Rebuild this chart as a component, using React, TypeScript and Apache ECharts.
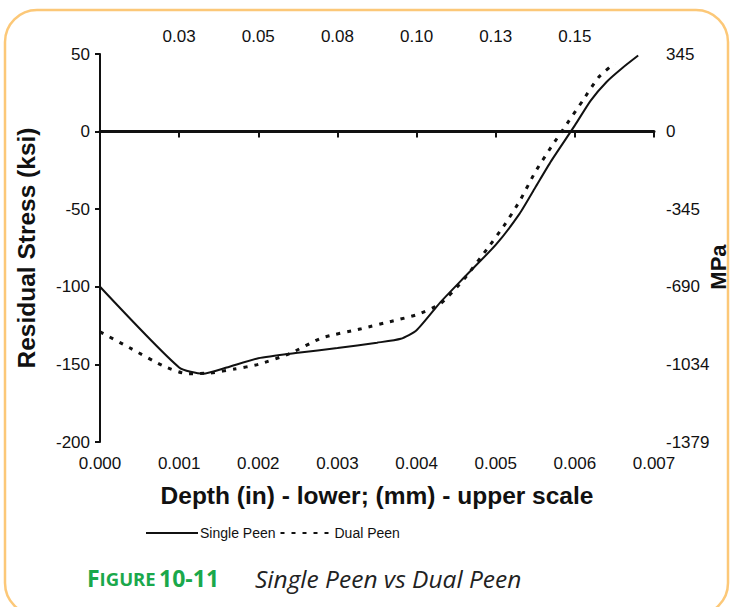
import React, { useEffect, useRef } from "react";
import * as echarts from "echarts";

const xTicks = [0, 0.001, 0.002, 0.003, 0.004, 0.005, 0.006, 0.007];
const mmLabels = ["", "0.03", "0.05", "0.08", "0.10", "0.13", "0.15", ""];
const ksiTicks = [-200, -150, -100, -50, 0, 50];
const mpaLabels = ["-1379", "-1034", "-690", "-345", "0", "345"];

const singleDepth = [0, 0.001, 0.0013, 0.0016, 0.002, 0.0025, 0.003, 0.0035, 0.0038, 0.004, 0.0043, 0.0046, 0.005, 0.0053, 0.0055, 0.0057, 0.006, 0.0062, 0.0064, 0.0066, 0.0068];
const singleStress = [-100, -152, -156, -152, -146, -142.5, -139.5, -136, -133.5, -128, -110, -94, -73, -53, -36, -19, 4, 20, 32, 41, 49];

const dualDepth = [0, 0.0004, 0.0008, 0.0011, 0.0014, 0.0017, 0.002, 0.0024, 0.0028, 0.0033, 0.0037, 0.004, 0.0043, 0.0046, 0.0049, 0.0051, 0.0053, 0.0055, 0.0057, 0.0059, 0.0061, 0.0063, 0.0065];
const dualStress = [-129, -140, -151, -156, -155.5, -153, -150, -143, -133, -127, -122, -118, -111, -95, -75, -61, -45, -26, -10, 5, 20, 35, 44];

const FONT = "'Liberation Sans', Arial, sans-serif";

export default function App() {
  const ref = useRef<HTMLDivElement>(null);
  useEffect(() => {
    if (!ref.current) return;
    const chart = echarts.init(ref.current, undefined, { renderer: "svg" });
    const tickIndex = (v: number) => xTicks.findIndex((t) => Math.abs(t - v) < 1e-9);
    const option: any = {
      animation: false,
      backgroundColor: "#ffffff",
      textStyle: { fontFamily: FONT },
      grid: { left: 100, right: 80, top: 54, bottom: 165 },
      legend: {
        left: 140,
        top: 521,
        itemWidth: 52,
        itemHeight: 2,
        itemGap: 4,
        itemStyle: { opacity: 0 },
        textStyle: { fontSize: 14, color: "#111", fontFamily: FONT, padding: [0, 0, 0, -3] },
        data: ["Single Peen", "Dual Peen"],
      },
      xAxis: [
        {
          type: "value",
          position: "bottom",
          min: 0,
          max: 0.007,
          interval: 0.001,
          axisLine: { show: false, onZero: false },
          axisTick: { show: false },
          splitLine: { show: false },
          axisLabel: {
            fontSize: 17,
            color: "#111",
            margin: 13,
            formatter: (v: number) => v.toFixed(3),
          },
          name: "Depth (in) - lower; (mm) - upper scale",
          nameLocation: "middle",
          nameGap: 41,
          nameTextStyle: { fontSize: 24.5, fontWeight: "bold", color: "#111", fontFamily: FONT },
        },
        {
          type: "value",
          position: "top",
          min: 0,
          max: 0.007,
          interval: 0.001,
          axisLine: { show: false, onZero: false },
          axisTick: { show: false },
          splitLine: { show: false },
          axisLabel: {
            fontSize: 17,
            color: "#111",
            margin: 9,
            formatter: (v: number) => mmLabels[tickIndex(v)] ?? "",
          },
        },
        {
          type: "value",
          position: "bottom",
          min: 0,
          max: 0.007,
          interval: 0.001,
          axisLine: { show: true, onZero: true, onZeroAxisIndex: 0, lineStyle: { color: "#111", width: 3 } },
          axisTick: { show: true, length: 6, lineStyle: { color: "#111", width: 2 } },
          axisLabel: { show: false },
          splitLine: { show: false },
        },
      ],
      yAxis: [
        {
          type: "value",
          position: "left",
          min: -200,
          max: 50,
          interval: 50,
          axisLine: { show: true, onZero: false, lineStyle: { color: "#111", width: 2 } },
          axisTick: { show: true, length: 5, lineStyle: { color: "#111", width: 2 } },
          splitLine: { show: false },
          axisLabel: { fontSize: 17, color: "#111", margin: 10 },
          name: "Residual Stress (ksi)",
          nameLocation: "middle",
          nameGap: 61,
          nameTextStyle: { fontSize: 24.5, fontWeight: "bold", color: "#111", fontFamily: FONT },
        },
        {
          type: "value",
          position: "right",
          min: -200,
          max: 50,
          interval: 50,
          axisLine: { show: false, onZero: false },
          axisTick: { show: false },
          splitLine: { show: false },
          axisLabel: {
            fontSize: 17,
            color: "#111",
            margin: 12,
            formatter: (v: number) => mpaLabels[ksiTicks.indexOf(v)] ?? "",
          },
        },
      ],
      series: [
        {
          name: "Single Peen",
          type: "line",
          xAxisIndex: 0,
          yAxisIndex: 0,
          data: singleDepth.map((d, i) => [d, singleStress[i]]),
          showSymbol: false,
          symbol: "none",
          smooth: 0.2,
          lineStyle: { color: "#111", width: 2 },
          itemStyle: { color: "#111" },
        },
        {
          name: "Dual Peen",
          type: "line",
          xAxisIndex: 0,
          yAxisIndex: 0,
          data: dualDepth.map((d, i) => [d, dualStress[i]]),
          showSymbol: false,
          symbol: "none",
          smooth: 0.2,
          lineStyle: { color: "#111", width: 3, type: [4, 7] },
          itemStyle: { color: "#111" },
        },
      ],
      graphic: [
        {
          type: "rect",
          silent: true,
          shape: { x: 5, y: 10, width: 723, height: 605, r: 32 },
          style: { fill: "none", stroke: "#fcc878", lineWidth: 2.5 },
        },
        {
          type: "text",
          silent: true,
          x: 718,
          y: 267,
          rotation: Math.PI / 2,
          style: {
            text: "MPa",
            font: `bold 22px ${FONT}`,
            fill: "#111",
            align: "center",
            verticalAlign: "middle",
          },
        },
        {
          type: "text",
          silent: true,
          x: 87,
          y: 578,
          style: {
            text: "{big|F}{small|IGURE} {big|10-11}",
            verticalAlign: "middle",
            rich: {
              big: { fontSize: 23, fontWeight: 700, fill: "#1aa84b", color: "#1aa84b", fontFamily: "'Open Sans', sans-serif" },
              small: { fontSize: 18.5, fontWeight: 700, fill: "#1aa84b", color: "#1aa84b", fontFamily: "'Open Sans', sans-serif" },
            },
          },
        },
        {
          type: "text",
          silent: true,
          x: 255,
          y: 578,
          style: {
            text: "Single Peen vs Dual Peen",
            font: "italic 24.5px 'Open Sans', sans-serif",
            fill: "#222",
            verticalAlign: "middle",
          },
        },
      ],
    };
    chart.setOption(option);
    return () => chart.dispose();
  }, []);
  return (
    <div
      ref={ref}
      style={{ position: "fixed", left: 0, top: 0, width: 734, height: 607 }}
    />
  );
}
